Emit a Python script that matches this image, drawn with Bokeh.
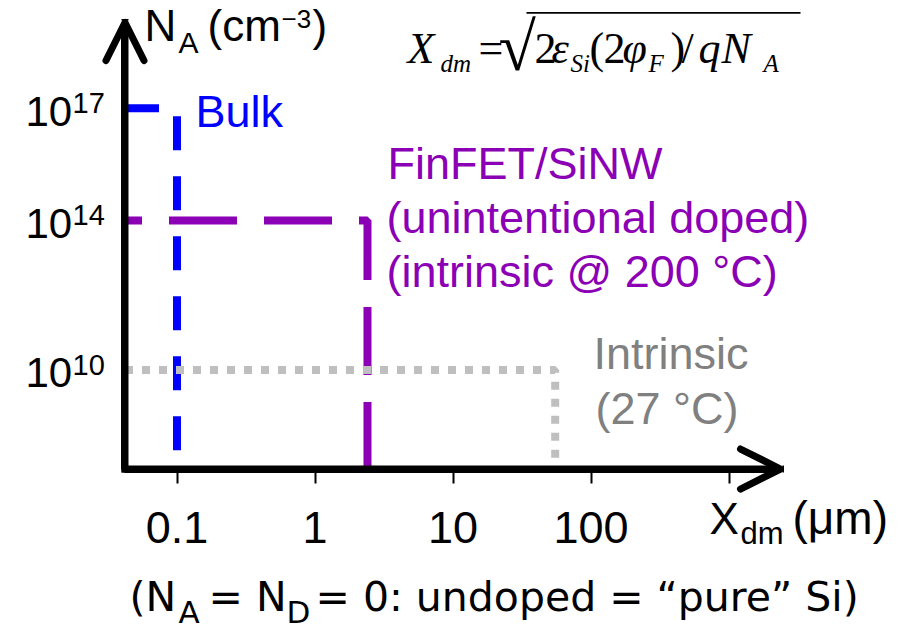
from bokeh.plotting import figure
from bokeh.models import (Label, Arrow, OpenHead, FixedTicker, CustomJSTickFormatter,
                          BoxAnnotation)
from bokeh.embed import file_html
from bokeh.resources import INLINE

# ---------------- data ----------------
x_ticks = [0.1, 1, 10, 100, 1000]
x_tick_labels = ["0.1", "1", "10", "100", ""]
y_ticks = [1e10, 1e14, 1e17]
y_tick_base = ["10", "10", "10"]
y_tick_exp = ["10", "14", "17"]

# visible ranges of the (schematic) axes
axis_x0, x_tip = 0.04198, 2360.0      # x axis runs from the y axis to its arrow tip
axis_y0, y_tip = 2.25e7, 1.954e19     # y axis runs from the x axis to its arrow tip
# whole canvas ranges
x_view = (0.00526, 23600.0)
y_view = (957.0, 7.57e19)

bulk_x = [axis_x0, 0.1, 0.1]
bulk_y = [1e17, 1e17, axis_y0]
finfet_x = [axis_x0, 2.4, 2.4]
finfet_y = [1e14, 1e14, axis_y0]
intr_x = [axis_x0, 55.0, 55.0]
intr_y = [1e10, 1e10, axis_y0]

BLUE = "#0000FF"
PURPLE = "#8B00B5"
GRAY_LINE = "#BFBFBF"
GRAY_TEXT = "#808080"
SANS = "Liberation Sans"
SERIF = "Liberation Serif"
K = 0.38  # baseline correction (fraction of font size)

p = figure(width=918, height=632, x_axis_type="log", y_axis_type="log",
           x_range=x_view, y_range=y_view,
           output_backend="svg", toolbar_location=None, min_border=0)
p.outline_line_color = None
p.xgrid.grid_line_color = None
p.ygrid.grid_line_color = None
p.background_fill_color = "white"
p.border_fill_color = "white"

# lines
p.line(bulk_x, bulk_y, line_color=BLUE, line_width=8, line_dash="34 26")
p.line(finfet_x, finfet_y, line_color=PURPLE, line_width=8, line_dash="68 27",
       line_dash_offset=51)
p.line(intr_x, intr_y, line_color=GRAY_LINE, line_width=8, line_dash="8 9")

# axes as spines at fixed locations
xa, ya = p.xaxis[0], p.yaxis[0]
xa.fixed_location = axis_y0
ya.fixed_location = axis_x0
xa.bounds = (axis_x0, x_tip)
ya.bounds = (axis_y0, y_tip)
for ax in (xa, ya):
    ax.axis_line_width = 7
    ax.axis_line_color = "black"
    ax.minor_tick_line_color = None

xa.ticker = FixedTicker(ticks=x_ticks)
xa.formatter = CustomJSTickFormatter(
    args=dict(tvals=x_ticks, tlabs=x_tick_labels),
    code="""
    for (let i = 0; i < tvals.length; i++) {
        if (Math.abs(Math.log10(tvals[i]) - Math.log10(tick)) < 1e-6) return tlabs[i];
    }
    return '';
    """)
xa.major_tick_out = 14
xa.major_tick_in = 0
xa.major_tick_line_width = 2
xa.major_tick_line_color = "black"
xa.major_label_text_font = SANS
xa.major_label_text_font_size = "45px"
xa.major_label_text_color = "black"
xa.major_label_standoff = 29

ya.ticker = FixedTicker(ticks=[])
ya.major_tick_line_color = None

# arrow heads on axes
p.add_layout(Arrow(x_start=axis_x0, y_start=axis_y0, x_end=axis_x0, y_end=y_tip,
                   line_width=7, line_color="black", line_cap="square",
                   end=OpenHead(size=38, line_width=7, line_color="black",
                                line_cap="round", line_join="round")))
p.add_layout(Arrow(x_start=axis_x0, y_start=axis_y0, x_end=x_tip, y_end=axis_y0,
                   line_width=7, line_color="black", line_cap="square",
                   end=OpenHead(size=40, line_width=7, line_color="black",
                                line_cap="round", line_join="round")))


def lab(text, x, y, size, color="black", font=SANS, style="normal",
        y_units="canvas", y_offset=0, raw=False):
    if y_units == "canvas" and not raw:
        y = y - K * size
    p.add_layout(Label(text=text, x=x, y=y, x_units="canvas", y_units=y_units,
                       y_offset=y_offset, text_font=font, text_font_style=style,
                       text_font_size=f"{size}px", text_color=color,
                       text_align="left", text_baseline="alphabetic"))


# y tick labels (10 with superscript exponents)
for yv, b, e in zip(y_ticks, y_tick_base, y_tick_exp):
    lab(b, 25, yv, 42, y_units="data", y_offset=-3)
    lab(e, 72, yv, 29, y_units="data", y_offset=5)

# y axis title: N_A (cm^-3)
lab("N", 144, 42, 44)
lab("A", 178, 53, 30)
lab("(cm", 207, 42, 44)
lab("\u22123", 281, 28, 26)
lab(")", 312, 42, 44)

# x axis title: X_dm (um)
lab("X", 709, 535, 44)
lab("dm", 740, 545, 31)
lab("(\u03bcm)", 792, 535, 46)

# formula
lab("X", 407, 65, 44, font=SERIF, style="italic")
lab("dm", 440, 72, 25, font=SERIF, style="italic")
lab("=", 478, 65, 44, font=SERIF)
lab("\u221a", 498, 46, 68, font=SERIF, raw=True)
p.add_layout(BoxAnnotation(left=526, right=800, top=11.5, bottom=13.3,
                           left_units="canvas", right_units="canvas",
                           top_units="canvas", bottom_units="canvas",
                           fill_color="black", fill_alpha=1, line_color=None))
lab("2", 534, 65, 44, font=SERIF)
lab("\u03b5", 551, 65, 44, font=SERIF, style="italic")
lab("Si", 570, 72, 25, font=SERIF, style="italic")
lab("(", 589, 65, 44, font=SERIF)
lab("2", 603, 65, 44, font=SERIF)
lab("\u03c6", 622, 65, 44, font=SERIF, style="italic")
lab("F", 648, 72, 25, font=SERIF, style="italic")
lab(")", 670, 65, 44, font=SERIF)
lab("/", 681, 65, 44, font=SERIF)
lab("q", 698, 65, 44, font=SERIF, style="italic")
lab("N", 721, 65, 44, font=SERIF, style="italic")
lab("A", 763, 72, 25, font=SERIF, style="italic")

# annotations
lab("Bulk", 195, 128, 45, color=BLUE)
lab("FinFET/SiNW", 387, 180, 45, color=PURPLE)
lab("(unintentional doped)", 386, 234, 45, color=PURPLE)
lab("(intrinsic @ 200 \u00b0C)", 386, 288, 45, color=PURPLE)
lab("Intrinsic", 593, 370, 45, color=GRAY_TEXT)
lab("(27 \u00b0C)", 595, 425, 45, color=GRAY_TEXT)

# caption
CAP = "DejaVu Sans"
lab("(N", 129, 612, 41, font=CAP)
lab("A", 178, 623, 31, font=CAP)
lab("= N", 208, 612, 41, font=CAP)
lab("D", 286, 623, 31, font=CAP)
lab("= 0: undoped = \u201cpure\u201d Si)", 315, 612, 41, font=CAP)

open("out.html", "w").write(file_html(p, INLINE))
